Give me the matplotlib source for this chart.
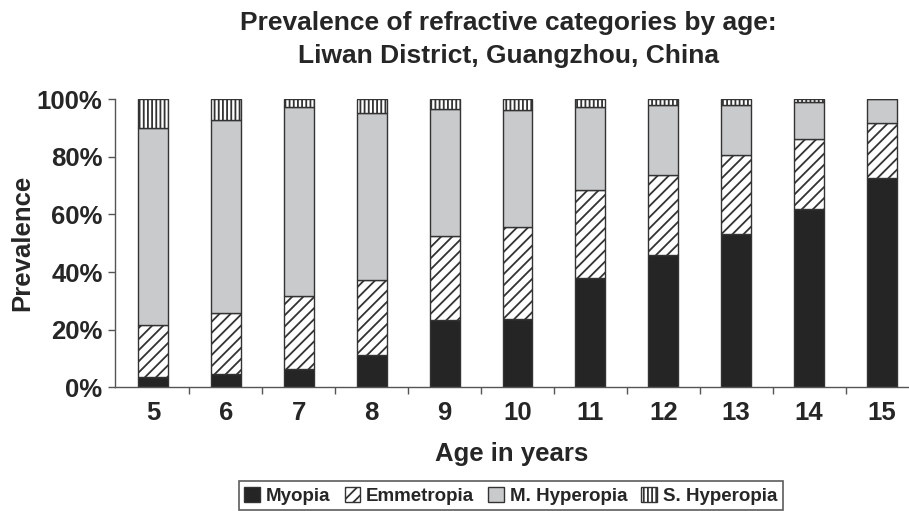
import matplotlib
matplotlib.use("Agg")
import matplotlib.pyplot as plt
import numpy as np
from matplotlib.ticker import PercentFormatter, FixedLocator
from matplotlib.patches import Patch

plt.rcParams['font.family'] = ['Liberation Sans', 'DejaVu Sans']
plt.rcParams['font.weight'] = 'bold'
plt.rcParams['axes.labelweight'] = 'bold'
plt.rcParams['hatch.linewidth'] = 1.3

# ages on the x axis
ages = [5, 6, 7, 8, 9, 10, 11, 12, 13, 14, 15]
# shares per category (fraction of 1)
myopia      = [0.035, 0.044, 0.063, 0.112, 0.234, 0.238, 0.380, 0.460, 0.533, 0.618, 0.726]
emmetropia  = [0.179, 0.213, 0.253, 0.259, 0.292, 0.318, 0.304, 0.276, 0.275, 0.245, 0.193]
m_hyperopia = [0.686, 0.670, 0.657, 0.581, 0.440, 0.408, 0.289, 0.246, 0.173, 0.130, 0.081]
s_hyperopia = [0.100, 0.073, 0.027, 0.048, 0.034, 0.036, 0.027, 0.018, 0.019, 0.007, 0.000]

names = ['Myopia', 'Emmetropia', 'M. Hyperopia', 'S. Hyperopia']
fills = ['#252525', 'white', '#c8cacb', 'white']
hatches = [None, '///', None, '||||']
edge = '#333333'
txt = '#262626'

fig = plt.figure(figsize=(9.09, 5.11), dpi=100)
ax = fig.add_axes([115/909, 1 - 387/511, 1 - 115/909, (387 - 99.5)/511])

x = np.array(ages)
bottom = np.zeros(len(ages))
for vals, name, fc, h in zip([myopia, emmetropia, m_hyperopia, s_hyperopia], names, fills, hatches):
    vals = np.array(vals)
    ax.bar(x, vals, width=0.41, bottom=bottom, color=fc, edgecolor=edge,
           hatch=h, linewidth=1.0, zorder=2)
    bottom += vals

ax.set_xlim(4.48, 15.37)
ax.set_ylim(0, 1)
ax.yaxis.set_major_formatter(PercentFormatter(1.0, decimals=0))
ax.set_yticks([0, 0.2, 0.4, 0.6, 0.8, 1.0])
ax.set_xticks(ages)
ax.set_xticklabels([str(a) for a in ages])
ax.xaxis.set_minor_locator(FixedLocator(np.arange(5.5, 15, 1.0)))
ax.tick_params(axis='x', which='major', length=0, pad=10, labelsize=18.5, labelcolor=txt)
ax.tick_params(axis='x', which='minor', length=5, width=1, color='#555555')
ax.tick_params(axis='y', length=5, width=1, color='#555555', labelsize=18.5, labelcolor=txt, pad=4)
for s in ['top', 'right']:
    ax.spines[s].set_visible(False)
for s in ['left', 'bottom']:
    ax.spines[s].set_color('#555555')
    ax.spines[s].set_linewidth(1.0)

ax.set_xlabel('Age in years', fontsize=18.5, fontweight='bold', color=txt, labelpad=12)
ax.set_ylabel('Prevalence', fontsize=18.5, fontweight='bold', color=txt, labelpad=2)
fig.text(0.559, 0.978, 'Prevalence of refractive categories by age:\nLiwan District, Guangzhou, China',
         ha='center', va='top', fontsize=19, fontweight='bold', color=txt, linespacing=1.45)

handles = [Patch(facecolor=fc, edgecolor=edge, hatch=h, linewidth=1.0)
           for fc, h in zip(fills, hatches)]
leg = fig.legend(handles, names, loc='center', bbox_to_anchor=(0.562, 0.03), ncol=4,
                 frameon=True, fancybox=False, edgecolor='#333333',
                 prop={'weight': 'bold', 'size': 13.5},
                 handlelength=0.85, handleheight=0.85, handletextpad=0.3,
                 columnspacing=0.75, borderpad=0.3, borderaxespad=0)
leg.get_frame().set_linewidth(1.2)
for t in leg.get_texts():
    t.set_color(txt)

fig.savefig('out.png', dpi=100)
